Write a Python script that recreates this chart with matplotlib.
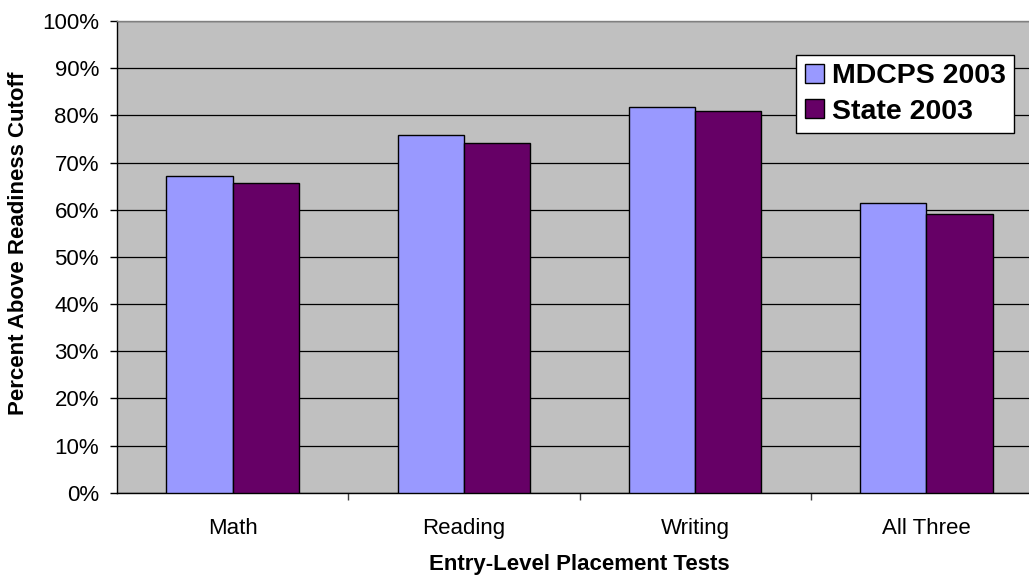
import numpy as np
import matplotlib.pyplot as plt
from matplotlib.ticker import FixedLocator, PercentFormatter

plt.rcParams['font.family'] = ['Liberation Sans', 'DejaVu Sans']

tests = ["Math", "Reading", "Writing", "All Three"]
mdcps_2003 = [67.1, 75.8, 81.8, 61.5]
state_2003 = [65.7, 74.2, 81.0, 59.0]

mdcps_color = "#9999FF"
state_color = "#660066"

fig = plt.figure(figsize=(10.29, 5.75), dpi=100)
# plot area runs a little past the right edge of the image
ax = fig.add_axes([117 / 1029, 82.3 / 575, 925 / 1029, 471.7 / 575])
ax.set_facecolor("#C0C0C0")

x = np.arange(len(tests))
w = 0.286
ax.bar(x - w / 2, mdcps_2003, w, color=mdcps_color, edgecolor="black", lw=1,
       label="MDCPS 2003", zorder=3)
ax.bar(x + w / 2, state_2003, w, color=state_color, edgecolor="black", lw=1,
       label="State 2003", zorder=3)

ax.set_xlim(-0.5, len(tests) - 0.5)
ax.set_ylim(0, 100)
ax.set_yticks(np.arange(0, 101, 10))
ax.yaxis.set_major_formatter(PercentFormatter(decimals=0))
ax.yaxis.grid(True, color="black", lw=0.9, zorder=1)
ax.set_axisbelow(True)

# category labels centred, tick marks between categories
ax.set_xticks(x)
ax.set_xticklabels(tests)
ax.tick_params(axis="x", which="major", length=0, pad=18, labelsize=16)
ax.xaxis.set_minor_locator(FixedLocator(np.arange(0.5, len(tests) - 0.5, 1)))
ax.tick_params(axis="x", which="minor", length=5, width=1, color="#404040")
ax.tick_params(axis="y", length=5, width=1, pad=8, labelsize=16)

for side in ["left", "bottom"]:
    ax.spines[side].set_color("black")
    ax.spines[side].set_linewidth(1)
ax.spines["top"].set_color("#808080")
ax.spines["top"].set_linewidth(1)
ax.spines["right"].set_visible(False)

ax.set_xlabel("Entry-Level Placement Tests", fontsize=16, fontweight="bold", labelpad=11)
ax.set_ylabel("Percent Above Readiness Cutoff", fontsize=16, fontweight="bold")
ax.yaxis.label.set_verticalalignment("center")
ax.yaxis.set_label_coords((19 - 117) / 925, (493 - 244) / 471.7)

leg = fig.legend(loc="upper right", bbox_to_anchor=(1014 / 1029, 1 - 54.7 / 575),
                 prop={"size": 20.5, "weight": "bold"}, frameon=True, fancybox=False,
                 handlelength=0.67, handleheight=0.67, handletextpad=0.27,
                 borderpad=0.3, labelspacing=0.33, borderaxespad=0)
leg.get_frame().set_edgecolor("black")
leg.get_frame().set_linewidth(1)
leg.get_frame().set_facecolor("white")
leg.get_frame().set_alpha(1)

fig.savefig("out.png", dpi=100)
